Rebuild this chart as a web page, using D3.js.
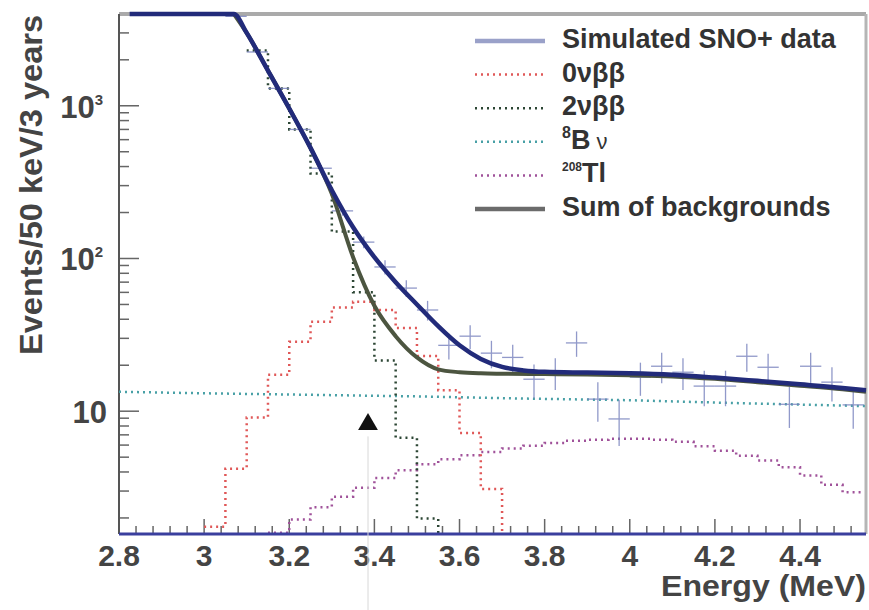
<!DOCTYPE html>
<html>
<head>
<meta charset="utf-8">
<script src="https://cdn.jsdelivr.net/npm/d3@7"></script>
<style>
  body { margin: 0; background: #fff; }
  svg { display: block; }
  text { font-family: "Liberation Sans", Arial, sans-serif; }
</style>
</head>
<body>
<div id="chart"></div>
<script>
const W = 869, H = 610;

// asse x / asse y
const energyTicks = [2.8, 3, 3.2, 3.4, 3.6, 3.8, 4, 4.2, 4.4];
const energyTickLabels = ['2.8', '3', '3.2', '3.4', '3.6', '3.8', '4', '4.2', '4.4'];
const countTicks = [10, 100, 1000];
const countTickExp = ['', '2', '3'];
const binWidth = 0.05;

// dati simulati (centri dei bin da 3.075 MeV)
const dataStart = 3.05;
const dataCounts = [3850, 2250, 1300, 700, 390, 205, 128, 88, 64, 46, 27, 31, 24, 22.5, 16.2,
    18, 28, 12, 8.9, 16.7, 19.7, 18, 14.6, 14.6, 22.9, 19.4, 11.1, 19.7, 15.5, 11];

// curva totale (fit) e somma dei fondi
const totalE = [2.825, 3.0, 3.07, 3.10, 3.15, 3.20, 3.25, 3.30, 3.35, 3.40, 3.45, 3.50, 3.55,
    3.60, 3.65, 3.70, 3.75, 3.80, 3.90, 4.00, 4.10, 4.20, 4.30, 4.40, 4.50, 4.555];
const totalV = [9000, 7000, 4000, 3000, 1700, 960, 530, 280, 160, 102, 70, 50, 36,
    27, 22, 19.5, 18.5, 18.1, 17.9, 17.7, 17.3, 16.6, 15.8, 15.0, 14.2, 13.7];
const bkgE = [3.07, 3.10, 3.15, 3.20, 3.25, 3.30, 3.35, 3.40, 3.45, 3.50, 3.55, 3.60, 3.65,
    3.70, 3.80, 3.90, 4.00, 4.10, 4.20, 4.30, 4.40, 4.50, 4.555];
const bkgV = [4000, 3000, 1700, 960, 528, 265, 102, 49, 31, 22.5, 18.8, 18, 17.7,
    17.6, 17.5, 17.4, 17.2, 16.9, 16.3, 15.5, 14.7, 13.9, 13.4];

// istogrammi (bin da 50 keV)
const zeroNuStart = 3.0;
const zeroNuCounts = [1.75, 4.2, 9.1, 17.3, 28.5, 38.5, 47.7, 52, 46, 35, 23, 13.7, 7.2, 3.1];
const twoNuStart = 3.10;
const twoNuCounts = [2300, 1300, 700, 360, 150, 60, 21.5, 6.7, 1.98];
const thalliumStart = 3.15;
const thalliumCounts = [1.6, 1.95, 2.35, 2.75, 3.15, 3.65, 4.1, 4.5, 4.85, 5.15, 5.4, 5.7, 5.95,
    6.2, 6.4, 6.5, 6.6, 6.6, 6.5, 6.3, 5.9, 5.5, 5.1, 4.75, 4.3, 3.8, 3.3, 2.95];
const boronE = [2.8, 3.0, 3.25, 3.5, 3.75, 4.0, 4.25, 4.555];
const boronV = [13.4, 13.1, 12.8, 12.5, 12.1, 11.8, 11.3, 10.8];

// freccia (valore Q)
const markerE = 3.385;
const markerV = 8.2;

const colors = {
    data: '#7680bd', dataKey: '#9aa1c9', total: '#222b7a', bkg: '#4c5540', bkgKey: '#6b6b6b',
    zeroNu: '#e05858', twoNu: '#2c4634', boron: '#48a0a6', thallium: '#a0529a'
};

const legendItems = [
    { parts: [{ t: 'Simulated SNO+ data' }], color: colors.dataKey, dash: null },
    { parts: [{ t: '0νββ' }], color: colors.zeroNu, dash: '2,4' },
    { parts: [{ t: '2νββ' }], color: colors.twoNu, dash: '2,4' },
    { parts: [{ t: '8', sup: true }, { t: 'B' }, { t: ' ν', light: true }], color: colors.boron, dash: '2,4' },
    { parts: [{ t: '208', sup: true }, { t: 'Tl' }], color: colors.thallium, dash: '2,4' },
    { parts: [{ t: 'Sum of backgrounds' }], color: colors.bkgKey, dash: null }
];

const svg = d3.select('#chart').append('svg')
    .attr('width', W)
    .attr('height', H);

const x = d3.scaleLinear().domain([2.8, 4.555]).range([119, 866]);
const y = d3.scaleLog().domain([1.57, 3990]).range([534, 14]).clamp(true);

// cornice
const [x0, x1] = x.range();
const [yb, yt] = y.range();
svg.append('line').attr('x1', x0).attr('x2', x1).attr('y1', yt).attr('y2', yt)
    .attr('stroke', '#aaaaaa').attr('stroke-width', 4);
svg.append('line').attr('x1', x1).attr('x2', x1).attr('y1', yt).attr('y2', yb)
    .attr('stroke', '#b5b5b5').attr('stroke-width', 3);

// tacche asse x
const minorX = d3.range(2.84, 4.555, 0.04).filter(v => Math.abs(Math.round(v * 5) - v * 5) > 0.01);
svg.selectAll('.xminor').data(minorX).enter().append('line')
    .attr('x1', d => x(d)).attr('x2', d => x(d))
    .attr('y1', yb).attr('y2', yb - 8)
    .attr('stroke', '#666').attr('stroke-width', 1.5);
svg.selectAll('.xmajor').data(energyTicks).enter().append('line')
    .attr('x1', d => x(d)).attr('x2', d => x(d))
    .attr('y1', yb).attr('y2', yb - 15)
    .attr('stroke', '#666').attr('stroke-width', 1.5);
svg.selectAll('.xlab').data(energyTicks).enter().append('text')
    .attr('x', d => x(d))
    .attr('y', 566)
    .attr('text-anchor', 'middle')
    .attr('fill', '#444')
    .style('font-size', '30px')
    .style('font-weight', 'bold')
    .text((d, i) => energyTickLabels[i]);

// tacche asse y (log)
const minorY = [];
[1, 10, 100, 1000].forEach(dec => {
    for (let m = 2; m <= 9; m++) {
        const v = dec * m;
        if (v > y.domain()[0] && v < y.domain()[1]) minorY.push(v);
    }
});
svg.selectAll('.yminor').data(minorY).enter().append('line')
    .attr('x1', x0).attr('x2', x0 + 10)
    .attr('y1', d => y(d)).attr('y2', d => y(d))
    .attr('stroke', '#666').attr('stroke-width', 1.5);
svg.selectAll('.ymajor').data(countTicks).enter().append('line')
    .attr('x1', x0).attr('x2', x0 + 20)
    .attr('y1', d => y(d)).attr('y2', d => y(d))
    .attr('stroke', '#666').attr('stroke-width', 1.5);
const ylab = svg.selectAll('.ylab').data(countTicks).enter().append('text')
    .attr('x', (d, i) => countTickExp[i] ? 103 : 107)
    .attr('y', d => y(d) + 12)
    .attr('text-anchor', 'end')
    .attr('fill', '#444')
    .style('font-size', '31px')
    .style('font-weight', 'bold');
ylab.append('tspan').text('10');
ylab.append('tspan')
    .attr('dy', -13)
    .style('font-size', '15px')
    .text((d, i) => countTickExp[i]);

// assi
svg.append('line').attr('x1', x0).attr('x2', x0).attr('y1', yt).attr('y2', yb)
    .attr('stroke', '#555').attr('stroke-width', 2);

// titoli assi
svg.append('text')
    .attr('transform', 'translate(42,185) rotate(-90)')
    .attr('text-anchor', 'middle')
    .attr('fill', '#444')
    .attr('textLength', 340)
    .attr('lengthAdjust', 'spacingAndGlyphs')
    .style('font-size', '32px')
    .style('font-weight', 'bold')
    .text('Events/50 keV/3 years');
svg.append('text')
    .attr('x', 866)
    .attr('y', 596)
    .attr('text-anchor', 'end')
    .attr('fill', '#444')
    .attr('textLength', 205)
    .attr('lengthAdjust', 'spacingAndGlyphs')
    .style('font-size', '29px')
    .style('font-weight', 'bold')
    .text('Energy (MeV)');

// istogramma a gradini
function histPoints(start, counts, dropEnd) {
    const pts = [];
    counts.forEach((c, i) => {
        const lo = start + i * binWidth;
        pts.push([x(lo), y(c)]);
        pts.push([x(Math.min(lo + binWidth, 4.555)), y(c)]);
    });
    if (dropEnd) {
        const last = pts[pts.length - 1];
        pts.push([last[0], yb]);
    }
    return pts;
}
const line = d3.line();

function drawHist(start, counts, color, dropEnd) {
    svg.append('path')
        .attr('d', line(histPoints(start, counts, dropEnd)))
        .attr('fill', 'none')
        .attr('stroke', color)
        .attr('stroke-width', 2.5)
        .attr('stroke-dasharray', '2,4');
}

// 8B
svg.append('path')
    .attr('d', line(boronE.map((e, i) => [x(e), y(boronV[i])])))
    .attr('fill', 'none')
    .attr('stroke', colors.boron)
    .attr('stroke-width', 2.5)
    .attr('stroke-dasharray', '2,4');

drawHist(thalliumStart, thalliumCounts, colors.thallium, false);
drawHist(zeroNuStart, zeroNuCounts, colors.zeroNu, true);
drawHist(twoNuStart, twoNuCounts, colors.twoNu, true);

// linea asse x (blu)
svg.append('line').attr('x1', x0).attr('x2', x1).attr('y1', yb).attr('y2', yb)
    .attr('stroke', '#3a3f9e').attr('stroke-width', 3);

// dati con barre d'errore
const dataG = svg.append('g').attr('stroke', colors.data).attr('stroke-width', 1.3).attr('opacity', 0.8);
dataCounts.forEach((c, i) => {
    const e = dataStart + (i + 0.5) * binWidth;
    const err = Math.sqrt(c);
    dataG.append('line')
        .attr('x1', x(e - binWidth / 2)).attr('x2', x(e + binWidth / 2))
        .attr('y1', y(c)).attr('y2', y(c));
    dataG.append('line')
        .attr('x1', x(e)).attr('x2', x(e))
        .attr('y1', y(c - err)).attr('y2', y(c + err));
});

// somma dei fondi e totale
const smooth = d3.line().curve(d3.curveMonotoneX);
svg.append('path')
    .attr('d', smooth(bkgE.map((e, i) => [x(e), y(bkgV[i])])))
    .attr('fill', 'none')
    .attr('stroke', colors.bkg)
    .attr('stroke-width', 4);
svg.append('path')
    .attr('d', smooth(totalE.map((e, i) => [x(e), y(totalV[i])])))
    .attr('fill', 'none')
    .attr('stroke', colors.total)
    .attr('stroke-width', 4.5);

// marcatore
svg.append('line')
    .attr('x1', x(markerE)).attr('x2', x(markerE))
    .attr('y1', y(markerV) + 12).attr('y2', H)
    .attr('stroke', '#d8d8d8').attr('stroke-width', 1);
svg.append('path')
    .attr('d', d3.symbol(d3.symbolTriangle).size(170)())
    .attr('transform', `translate(${x(markerE)},${y(markerV)})`)
    .attr('fill', '#111');

// legenda
const legend = svg.append('g');
legendItems.forEach((item, i) => {
    const base = 48 + i * 33.6;
    legend.append('line')
        .attr('x1', 475).attr('x2', 545)
        .attr('y1', base - 7).attr('y2', base - 7)
        .attr('stroke', item.color)
        .attr('stroke-width', item.dash ? 2.5 : 4.5)
        .attr('stroke-dasharray', item.dash);
    const t = legend.append('text')
        .attr('x', 562)
        .attr('y', base)
        .attr('fill', '#333')
        .style('font-size', '27px')
        .style('font-weight', 'bold');
    item.parts.forEach((p, j) => {
        const prev = j > 0 && item.parts[j - 1].sup;
        const ts = t.append('tspan').text(p.t);
        if (p.sup) ts.attr('dy', -11).style('font-size', p.t.length > 1 ? '12px' : '16px');
        else if (prev) ts.attr('dy', 11);
        if (p.light) ts.style('font-weight', 'normal').style('font-size', '22px');
    });
});
</script>
</body>
</html>
